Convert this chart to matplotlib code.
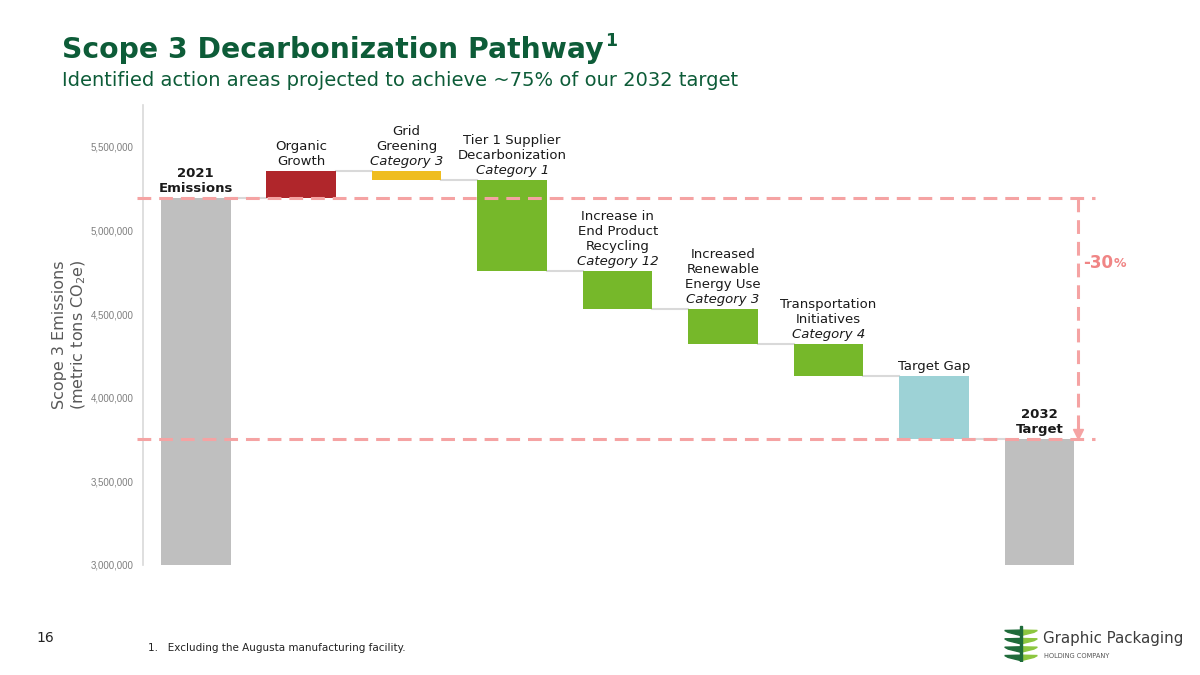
import numpy as np
import matplotlib.pyplot as plt
from matplotlib.ticker import FuncFormatter
from matplotlib.patches import Polygon

# data (metric tons CO2e)
start_2021 = 5195000
steps = [160000, -51000, -544000, -232000, -205000, -191000, -377000]
target_2032 = 3755000
y_floor = 3000000
y_ticks = [3000000, 3500000, 4000000, 4500000, 5000000, 5500000]

labels = [
    [("2021", "bold"), ("Emissions", "bold")],
    [("Organic", "normal"), ("Growth", "normal")],
    [("Grid", "normal"), ("Greening", "normal"), ("Category 3", "italic")],
    [("Tier 1 Supplier", "normal"), ("Decarbonization", "normal"), ("Category 1", "italic")],
    [("Increase in", "normal"), ("End Product", "normal"), ("Recycling", "normal"), ("Category 12", "italic")],
    [("Increased", "normal"), ("Renewable", "normal"), ("Energy Use", "normal"), ("Category 3", "italic")],
    [("Transportation", "normal"), ("Initiatives", "normal"), ("Category 4", "italic")],
    [("Target Gap", "normal")],
    [("2032", "bold"), ("Target", "bold")],
]
colors = ["#bfbfbf", "#b0262b", "#efbd20", "#76b82a", "#76b82a", "#76b82a", "#76b82a", "#9dd2d6", "#bfbfbf"]

green = "#0d5c38"
pink = "#f5a3a3"

# waterfall geometry
levels = np.concatenate([[start_2021], start_2021 + np.cumsum(steps)])
bottoms = [y_floor]
heights = [start_2021 - y_floor]
for i, s in enumerate(steps):
    bottoms.append(min(levels[i], levels[i + 1]))
    heights.append(abs(s))
bottoms.append(y_floor)
heights.append(target_2032 - y_floor)
x = np.arange(len(heights))
tops = np.array(bottoms) + np.array(heights)

fig = plt.figure(figsize=(12, 6.75), dpi=100)
ax = fig.add_axes([143 / 1200, 1 - 565 / 675, 954 / 1200, 460 / 675])

w = 0.66
ax.bar(x, heights, bottom=bottoms, width=w, color=colors, zorder=2)

# connectors between neighbouring bars
for i in range(len(x) - 1):
    lvl = levels[i] if i < len(levels) else target_2032
    ax.plot([x[i] + w / 2, x[i + 1] - w / 2], [lvl, lvl], color="#d9d9d9", lw=1.5, zorder=1)

# reference dashed lines
x_right = 8.53
x_arrow = 8.365
dash = (0, (4.5, 2.6))
ax.plot([-0.56, x_right], [start_2021, start_2021], color=pink, lw=2.2, ls=dash, zorder=3, clip_on=False)
ax.plot([-0.56, x_right], [target_2032, target_2032], color=pink, lw=2.2, ls=dash, zorder=3, clip_on=False)
ax.plot([x_arrow, x_arrow], [start_2021, target_2032 + 40000], color=pink, lw=2.2, ls=dash, zorder=3)
ax.plot([x_arrow], [target_2032 + 30000], marker="v", color=pink, ms=7, zorder=3)
t = ax.text(x_arrow + 0.05, 4803000, "-30", color="#f08585", fontsize=12, fontweight="bold", va="center", ha="left")
ax.annotate("%", xy=(1, 0.12), xycoords=t, color="#f08585", fontsize=9, fontweight="bold", va="bottom", ha="left")

# category labels
line_px = 15
for i, lab in enumerate(labels):
    n = len(lab)
    for j, (txt, style) in enumerate(lab):
        off = 3 + (n - 1 - j) * line_px
        ax.annotate(txt, xy=(x[i], tops[i]), xytext=(0, off), textcoords="offset pixels",
                    ha="center", va="bottom", fontsize=9.5, color="#1a1a1a",
                    fontweight="bold" if style == "bold" else "normal",
                    fontstyle="italic" if style == "italic" else "normal")

ax.set_xlim(-0.5, 8.545)
ax.set_ylim(y_floor, 5750000)
ax.set_yticks(y_ticks)
ax.yaxis.set_major_formatter(FuncFormatter(lambda v, p: f"{int(v):,}"))
ax.tick_params(axis="y", length=0, pad=7, labelsize=7, labelcolor="#7f7f7f")
for lbl in ax.get_yticklabels():
    lbl.set_family("Liberation Sans")
ax.set_xticks([])
for s in ["top", "right", "bottom"]:
    ax.spines[s].set_visible(False)
ax.spines["left"].set_color("#d9d9d9")
ax.spines["left"].set_linewidth(1.2)

ax.set_ylabel("Scope 3 Emissions\n(metric tons CO$_2$e)", fontsize=11.5, color="#595959", linespacing=1.2)
ax.yaxis.set_label_coords(-0.058, 0.5)

# titles
ttl = fig.text(62 / 1200, 1 - 58 / 675, "Scope 3 Decarbonization Pathway", fontsize=20.3, fontweight="bold",
               color=green, va="baseline")
ax.annotate("1", xy=(1, 0.5), xycoords=ttl, xytext=(2, 0), textcoords="offset pixels",
            fontsize=12.5, fontweight="bold", color=green, va="bottom", ha="left", annotation_clip=False)
fig.text(62 / 1200, 1 - 86 / 675, "Identified action areas projected to achieve ~75% of our 2032 target",
         fontsize=14, color=green, va="baseline")

# footer
fig.text(36 / 1200, 1 - 642 / 675, "16", fontsize=10, color="#222222", va="baseline")
fig.text(148 / 1200, 1 - 651 / 675, "1.   Excluding the Augusta manufacturing facility.", fontsize=7.5,
         color="#222222", va="baseline")

# logo
lax = fig.add_axes([1004 / 1200, 1 - 662 / 675, 34 / 1200, 38 / 675])
lax.set_xlim(0, 1)
lax.set_ylim(0, 1)
lax.axis("off")
for k in range(4):
    y0 = 0.12 + k * 0.22
    lax.add_patch(Polygon([[0.02, y0 + 0.05], [0.12, y0], [0.48, y0 - 0.08], [0.48, y0 + 0.06]],
                          closed=True, color="#1f6b3a"))
    lax.add_patch(Polygon([[0.52, y0 - 0.08], [0.88, y0], [0.98, y0 + 0.05], [0.52, y0 + 0.06]],
                          closed=True, color="#8cc63f"))
lax.add_patch(Polygon([[0.46, 0.0], [0.54, 0.0], [0.54, 0.95], [0.46, 0.95]], closed=True, color="#1f6b3a"))
fig.text(1043 / 1200, 1 - 643 / 675, "Graphic Packaging", fontsize=10.8, color="#3c3c3c", va="baseline")
fig.text(1044 / 1200, 1 - 658 / 675, "HOLDING COMPANY", fontsize=4.8, color="#555555", va="baseline")

fig.savefig("out.png", dpi=100)
